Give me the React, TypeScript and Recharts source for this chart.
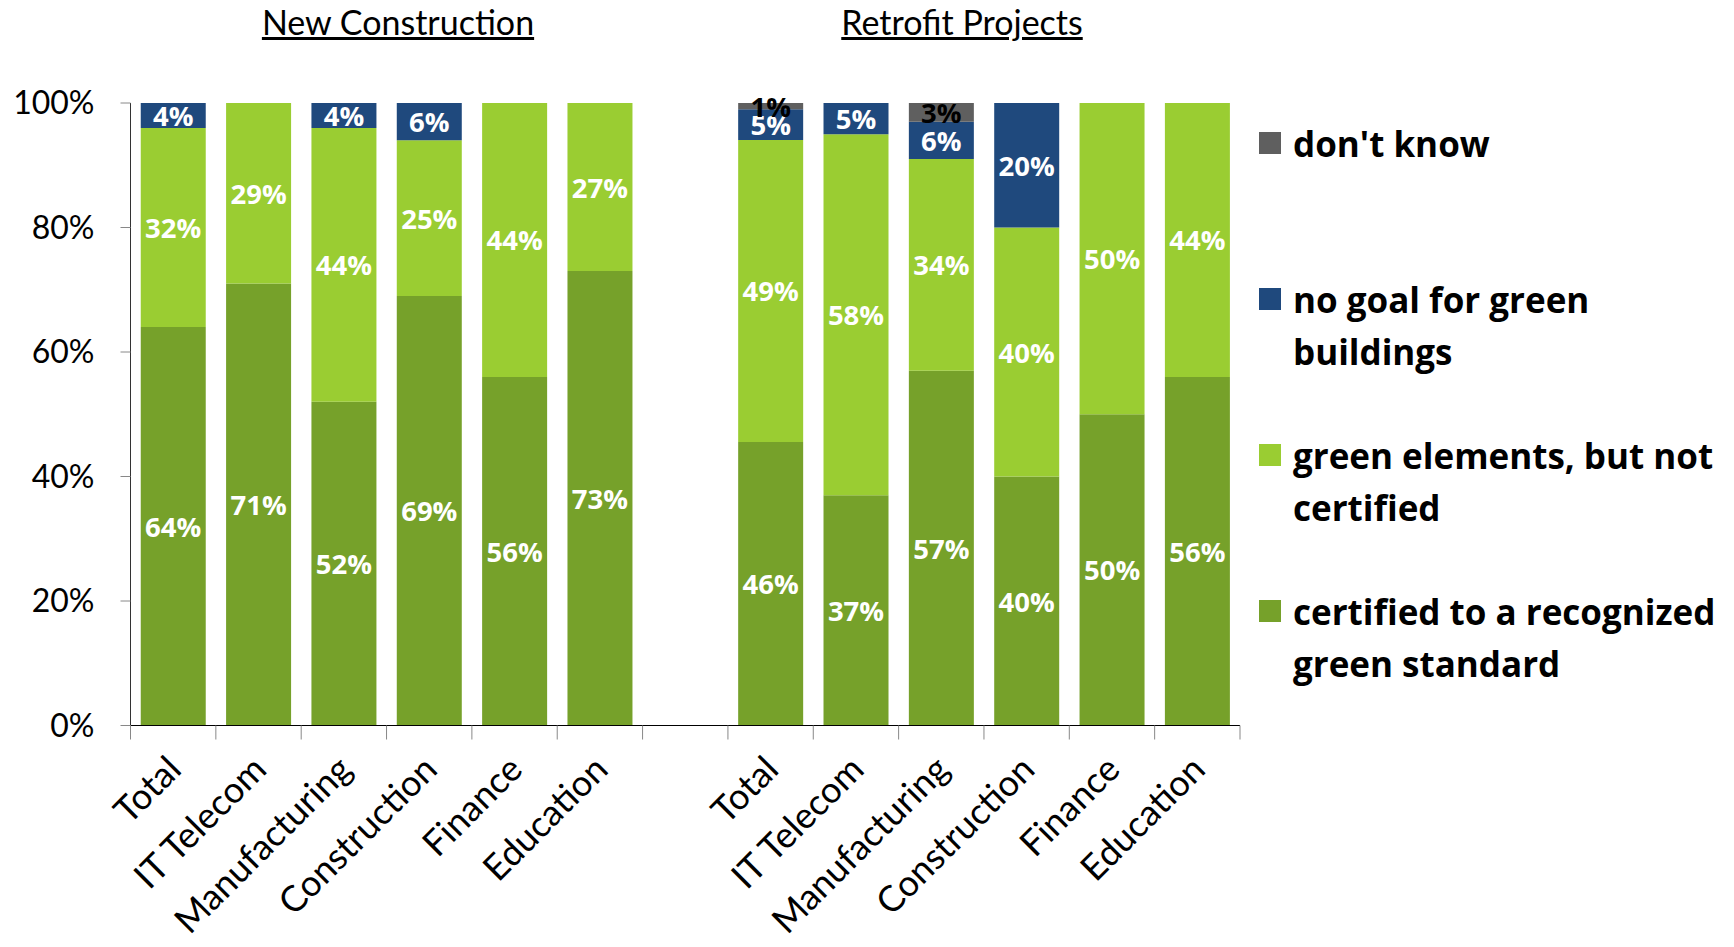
import { BarChart, Bar, XAxis, YAxis, LabelList } from "recharts";

const categoryNames = [
  "Total",
  "IT Telecom",
  "Manufacturing",
  "Construction",
  "Finance",
  "Education",
  "",
  "Total",
  "IT Telecom",
  "Manufacturing",
  "Construction",
  "Finance",
  "Education",
];

// percent values per category (gap column between the two groups is empty)
const certified = [64, 71, 52, 69, 56, 73, 0, 46, 37, 57, 40, 50, 56];
const greenElements = [32, 29, 44, 25, 44, 27, 0, 49, 58, 34, 40, 50, 44];
const noGoal = [4, 0, 4, 6, 0, 0, 0, 5, 5, 6, 20, 0, 0];
const dontKnow = [0, 0, 0, 0, 0, 0, 0, 1, 0, 3, 0, 0, 0];

const yTicks = [0, 0.2, 0.4, 0.6, 0.8, 1];

const groupTitles = [
  { text: "New Construction", x: 398 },
  { text: "Retrofit Projects", x: 962 },
];

const series = [
  { key: "dontKnow", name: "don't know", color: "#5F5F5F", labelColor: "#000" },
  { key: "noGoal", name: "no goal for green buildings", color: "#1F497D", labelColor: "#fff" },
  { key: "greenElements", name: "green elements, but not certified", color: "#9ACD32", labelColor: "#fff" },
  { key: "certified", name: "certified to a recognized green standard", color: "#76A12A", labelColor: "#fff" },
];

const data = categoryNames.map((name, i) => ({
  id: String(i),
  name,
  certified: certified[i],
  greenElements: greenElements[i],
  noGoal: noGoal[i],
  dontKnow: dontKnow[i],
}));

const WIDTH = 1734;
const HEIGHT = 947;
const MARGIN = { top: 103, right: 494, bottom: 21.5, left: 30 };
const Y_AXIS_WIDTH = 100.5;
const PLOT_WIDTH = WIDTH - MARGIN.right - MARGIN.left - Y_AXIS_WIDTH;
const BAND = PLOT_WIDTH / categoryNames.length;

const tickFont = "Lato, 'Open Sans', sans-serif";
const boldFont = "'Open Sans', 'DejaVu Sans', sans-serif";

function CategoryTick({ x, y, payload, index }: any) {
  const i = Number(payload.value);
  const name = categoryNames[i] ?? "";
  const isLast = index === categoryNames.length - 1;
  return (
    <g>
      <line x1={x - BAND / 2} x2={x - BAND / 2} y1={y - 14} y2={y} stroke="#888" />
      {isLast && (
        <line x1={x + BAND / 2} x2={x + BAND / 2} y1={y - 14} y2={y} stroke="#888" />
      )}
      <text
        transform={`translate(${x + 10}, ${y + 32}) rotate(-45)`}
        textAnchor="end"
        fontFamily={tickFont}
        fontSize={36}
        fill="#000"
      >
        {name}
      </text>
    </g>
  );
}

function makeLabel(color: string) {
  return ({ x, y, width, height, value }: any) => {
    if (!value) return null;
    return (
      <text
        x={x + width / 2}
        y={y + height / 2}
        textAnchor="middle"
        dominantBaseline="central"
        fontFamily={boldFont}
        fontWeight="bold"
        fontSize={27.5}
        fill={color}
      >
        {value}%
      </text>
    );
  };
}

function LegendBox() {
  return (
    <div
      style={{
        position: "absolute",
        left: 1259,
        top: 118,
        width: 475,
        fontFamily: boldFont,
        fontWeight: "bold",
        fontSize: 35,
        lineHeight: "52px",
        color: "#000",
      }}
    >
      {series.map((s) => (
        <div key={s.key} style={{ display: "flex", height: 156 }}>
          <div
            style={{
              width: 22,
              height: 22,
              background: s.color,
              marginTop: 14,
              marginRight: 12,
              flexShrink: 0,
            }}
          />
          <div style={{ width: 441 }}>{s.name}</div>
        </div>
      ))}
    </div>
  );
}

export default function App() {
  return (
    <div
      style={{
        position: "absolute",
        left: 0,
        top: 0,
        width: WIDTH,
        height: HEIGHT,
        background: "#fff",
      }}
    >
      {groupTitles.map((t) => (
        <div
          key={t.text}
          style={{
            position: "absolute",
            left: t.x,
            top: 2,
            transform: "translateX(-50%)",
            fontFamily: tickFont,
            fontSize: 34,
            lineHeight: "40px",
            textDecoration: "underline",
            whiteSpace: "nowrap",
            color: "#000",
          }}
        >
          {t.text}
        </div>
      ))}
      <BarChart
        width={WIDTH}
        height={HEIGHT}
        data={data}
        margin={MARGIN}
        stackOffset="expand"
        barCategoryGap="12%"
      >
        <XAxis
          dataKey="id"
          height={200}
          interval={0}
          tickLine={false}
          tickSize={14}
          tickMargin={0}
          axisLine={{ stroke: "#000" }}
          tick={<CategoryTick />}
        />
        <YAxis
          width={Y_AXIS_WIDTH}
          domain={[0, 1]}
          ticks={yTicks}
          tickFormatter={(v: number) => `${Math.round(v * 100)}%`}
          tickSize={10}
          tickMargin={26}
          axisLine={{ stroke: "#333" }}
          tickLine={{ stroke: "#888" }}
          tick={{ fontFamily: tickFont, fontSize: 32, fill: "#000" }}
        />
        {[...series].reverse().map((s) => (
          <Bar
            key={s.key}
            dataKey={s.key}
            stackId="a"
            fill={s.color}
            isAnimationActive={false}
          >
            <LabelList dataKey={s.key} content={makeLabel(s.labelColor)} />
          </Bar>
        ))}
      </BarChart>
      <LegendBox />
    </div>
  );
}
